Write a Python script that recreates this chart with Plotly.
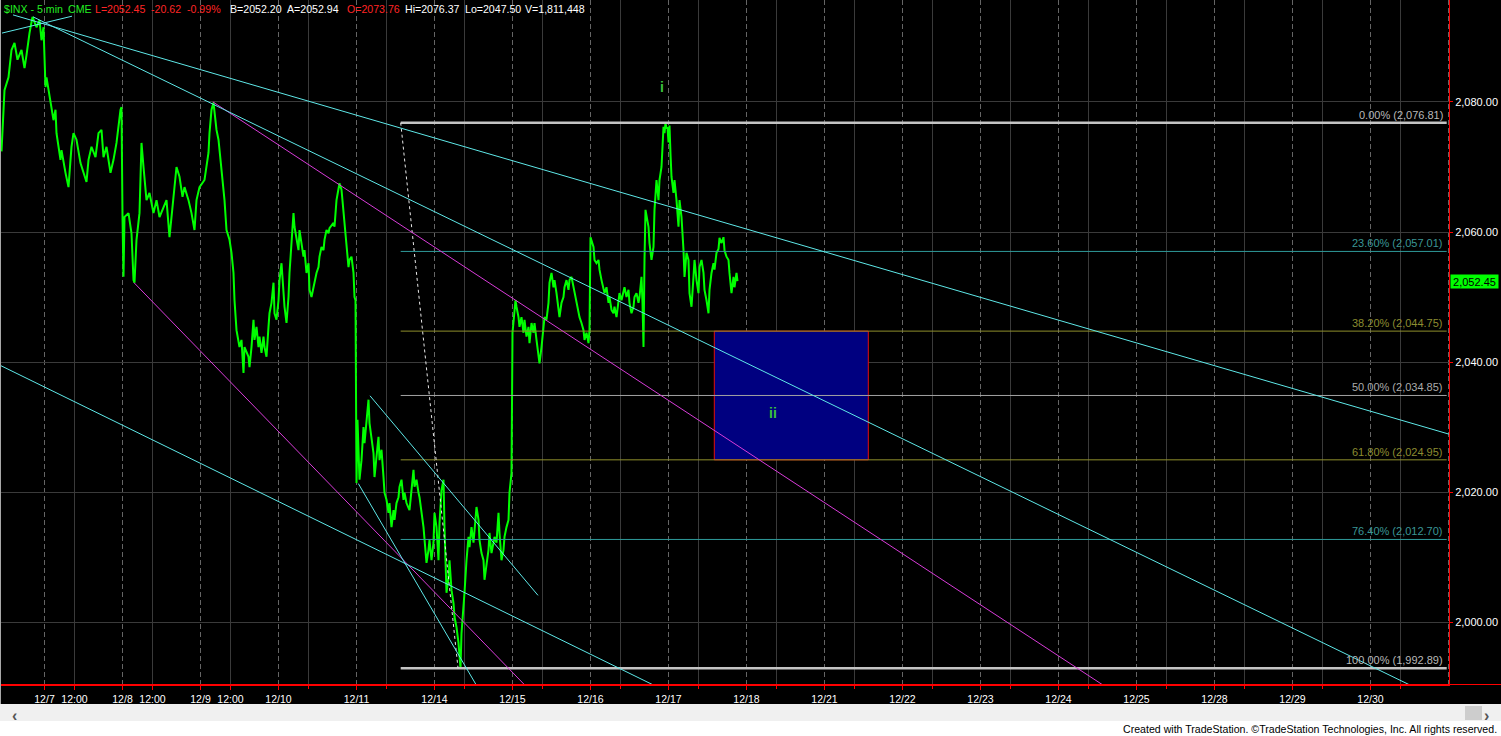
import plotly.graph_objects as go

FONT = "Arial, 'Liberation Sans', sans-serif"

# ---------------------------------------------------------------------------
# $INX 5-minute closes. x = bar number counted from the 12/7 open
# (78 bars per regular session, earlier bars belong to the 12/4 session).
# ---------------------------------------------------------------------------
bars = [
    # 12/4
    -43, -40, -36, -33, -30, -27, -23, -20, -18, -15, -12, -8, -5, -3, -1,
    # 12/7
    0, 1, 2, 6, 9, 11, 12, 16, 17, 21, 24, 26, 27, 29, 32, 36, 39, 42, 44, 47,
    51, 54, 57, 59, 62, 66, 69, 72, 76, 77,
    # 12/8
    78, 79, 80, 84, 87, 89, 90, 92, 95, 97, 99, 102, 105, 109, 112, 115, 119,
    122, 125, 129, 132, 135, 138, 140, 144, 147, 150, 152, 155,
    # 12/9
    160, 164, 165, 167, 169, 172, 174, 175, 177, 178, 180, 182, 185, 187, 189,
    190, 192, 195, 197, 199, 200, 204, 205, 207, 209, 210, 212, 214, 215, 217,
    219, 220, 222, 224, 225, 227, 229, 230, 232,
    # 12/10
    234, 235, 237, 239, 240, 242, 244, 245, 247, 249, 250, 252, 254, 255, 257,
    259, 260, 262, 264, 265, 267, 269, 270, 272, 274, 275, 277, 279, 280, 282,
    284, 285, 289, 290, 292, 294, 295, 297, 299, 300, 302, 304, 305, 307, 309,
    310, 311,
    # 12/11
    312, 313, 314, 315, 317, 319, 320, 322, 324, 325, 327, 329, 330, 332, 334,
    335, 337, 339, 340, 342, 344, 345, 347, 349, 350, 352, 354, 355, 357, 359,
    360, 362, 365, 367, 369, 370, 372, 374, 375, 379, 380, 382, 384, 385, 387,
    389,
    # 12/14
    390, 392, 394, 395, 397, 399, 400, 402, 404, 405, 407, 409, 410, 412, 414,
    415, 416, 417, 419, 420, 422, 424, 425, 427, 429, 430, 432, 434, 435, 437,
    439, 440, 442, 444, 445, 447, 449, 450, 452, 454, 455, 457, 459, 460, 462,
    464, 465, 467,
    # 12/15
    468, 470, 471, 472, 474, 475, 477, 479, 480, 482, 484, 485, 487, 489, 490,
    492, 494, 495, 497, 499, 500, 502, 504, 505, 507, 509, 510, 512, 514, 515,
    517, 519, 520, 522, 524, 525, 527, 529, 532, 534, 535, 537, 539, 540, 542,
    544, 545,
    # 12/16
    546, 547, 549, 550, 552, 554, 555, 557, 559, 560, 562, 564, 565, 567, 569,
    570, 572, 574, 575, 577, 579, 580, 582, 584, 585, 587, 589, 590, 592, 594,
    595, 597, 598, 599, 600, 601, 604, 605, 607, 609, 610, 612, 614, 615, 617,
    619, 620, 621, 622, 623,
    # 12/17
    624, 625, 626, 627, 629, 630, 632, 634, 635, 637, 639, 640, 642, 644, 645,
    647, 649, 650, 652, 654, 655, 657, 659, 660, 662, 664, 665, 667, 669, 670,
    672, 674, 675, 677, 679, 680, 682, 684, 685, 687, 689, 690, 692, 693,
]

prices = [
    # 12/4
    2072.4, 2081.8, 2083.8, 2088.0, 2089.1, 2086.5, 2088.0, 2085.2, 2087.2,
    2090.6, 2093.1, 2091.5, 2092.6, 2089.5, 2091.5,
    # 12/7
    2088.0, 2082.3, 2083.8, 2080.3, 2077.2, 2078.8, 2075.2, 2071.1, 2072.6,
    2069.1, 2066.9, 2071.1, 2073.1, 2075.2, 2074.2, 2070.6, 2069.1, 2067.7,
    2071.1, 2073.1, 2071.5, 2075.2, 2075.7, 2071.5, 2073.1, 2069.1, 2071.1,
    2073.7, 2078.8, 2079.2,
    # 12/8
    2062.3, 2053.1, 2062.3, 2062.9, 2059.8, 2052.6, 2052.2, 2058.8, 2062.9,
    2073.7, 2070.0, 2064.9, 2066.0, 2062.9, 2064.9, 2062.3, 2063.8, 2064.9,
    2059.2, 2065.4, 2070.0, 2068.5, 2065.4, 2066.9, 2064.9, 2062.9, 2060.3,
    2064.9, 2066.9,
    # 12/9
    2068.0, 2072.2, 2075.2, 2078.8, 2079.9, 2075.7, 2074.2, 2072.6, 2070.0,
    2067.5, 2064.9, 2060.3, 2058.8, 2056.8, 2053.7, 2049.5, 2044.9, 2042.3,
    2043.4, 2038.3, 2042.3, 2040.8, 2039.2, 2042.3, 2046.5, 2043.4, 2045.4,
    2042.3, 2043.9, 2041.4, 2043.9, 2042.3, 2040.8, 2045.4, 2047.5, 2049.1,
    2052.2, 2047.5, 2046.5,
    # 12/10
    2049.5, 2052.6, 2055.2, 2050.6, 2048.5, 2046.0, 2050.0, 2053.7, 2058.8,
    2062.9, 2060.8, 2058.8, 2057.2, 2060.3, 2058.3, 2056.2, 2057.2, 2053.7,
    2055.2, 2051.1, 2050.0, 2051.5, 2052.6, 2053.7, 2054.6, 2056.2, 2057.7,
    2057.2, 2058.8, 2060.3, 2059.8, 2060.6, 2061.4, 2060.8, 2064.9, 2066.5,
    2067.5, 2066.5, 2062.9, 2061.9, 2058.8, 2054.6, 2055.7, 2056.2, 2053.7,
    2050.0, 2049.5,
    # 12/11
    2021.4, 2031.1, 2026.5, 2021.9, 2024.9, 2030.0, 2027.5, 2031.1, 2034.2,
    2030.6, 2028.0, 2026.0, 2022.3, 2026.0, 2028.5, 2024.9, 2026.5, 2022.3,
    2019.9, 2018.8, 2016.8, 2018.3, 2014.6, 2017.2, 2015.7, 2018.3, 2019.2,
    2020.8, 2021.9, 2018.8, 2019.9, 2018.3, 2017.2, 2020.3, 2023.4, 2020.8,
    2021.9, 2019.9, 2019.2, 2014.6, 2012.2, 2009.1, 2011.1, 2012.6, 2009.5,
    2012.2,
    # 12/14
    2016.8, 2014.6, 2009.5, 2015.2, 2020.3, 2021.9, 2014.6, 2004.5, 2006.9,
    2009.5, 2004.9, 2002.9, 2000.8, 1999.2, 1996.8, 1995.2, 1992.9, 1998.3,
    2001.8, 2004.5, 2009.5, 2013.1, 2011.5, 2014.6, 2012.2, 2013.7, 2017.7,
    2015.7, 2012.6, 2010.6, 2009.5, 2006.5, 2008.5, 2011.1, 2013.7, 2010.6,
    2012.2, 2013.1, 2012.2, 2016.8, 2013.7, 2009.5, 2011.1, 2013.1, 2014.6,
    2015.7, 2019.9, 2022.9,
    # 12/15
    2044.5, 2047.7, 2049.5, 2048.5, 2046.9, 2045.4, 2046.9, 2044.5, 2046.5,
    2043.9, 2045.4, 2042.9, 2046.0, 2044.5, 2046.0, 2043.4, 2041.4, 2039.8,
    2042.3, 2044.9, 2046.9, 2046.5, 2049.1, 2052.2, 2053.7, 2051.5, 2052.6,
    2050.6, 2048.5, 2046.9, 2049.1, 2050.0, 2051.5, 2052.6, 2051.1, 2052.6,
    2053.1, 2051.5, 2049.5, 2048.0, 2046.9, 2046.0, 2044.9, 2043.4, 2044.5,
    2042.9, 2044.9,
    # 12/16
    2059.2, 2058.8, 2057.7, 2055.7, 2055.2, 2055.7, 2054.2, 2052.6, 2051.5,
    2050.6, 2051.5, 2049.1, 2050.0, 2048.0, 2047.5, 2048.5, 2046.9, 2049.1,
    2050.6, 2049.5, 2050.6, 2051.5, 2050.0, 2051.1, 2049.1, 2047.5, 2048.5,
    2050.0, 2050.6, 2049.1, 2050.0, 2053.1, 2049.1, 2042.3, 2055.7, 2063.4,
    2060.8, 2058.3, 2055.7, 2057.7, 2063.4, 2068.0, 2064.9, 2068.0, 2070.0,
    2076.2, 2075.2, 2076.8, 2075.9, 2076.1,
    # 12/17
    2073.76, 2076.37, 2072.0, 2068.5, 2066.0, 2068.0, 2064.9, 2060.8, 2064.9,
    2062.3, 2057.2, 2053.1, 2056.8, 2055.7, 2050.6, 2048.5, 2053.1, 2055.7,
    2052.6, 2050.6, 2054.6, 2055.7, 2053.7, 2051.1, 2049.5, 2047.5, 2051.1,
    2053.7, 2055.2, 2054.2, 2056.8, 2057.4, 2059.1, 2058.3, 2059.2, 2057.2,
    2056.2, 2055.7, 2053.7, 2050.6, 2053.1, 2051.5, 2053.7, 2052.45,
]
assert len(bars) == len(prices)

# Session dates on the time axis (future sessions kept for the projection space)
sessions = ["12/7", "12/8", "12/9", "12/10", "12/11", "12/14", "12/15", "12/16",
            "12/17", "12/18", "12/21", "12/22", "12/23", "12/24", "12/25",
            "12/28", "12/29", "12/30"]
noon_labelled = ["12/7", "12/8", "12/9"]
BARS_PER_SESSION = 78
NOON_BAR = 30

x_range = [-44.5, 1404.5]
y_range = [1990.31, 2095.69]
y_ticks = [2000, 2020, 2040, 2060, 2080]

# Header quote fields: (text, colour, left pixel)
quote_parts = [
    ("$INX - 5 min", "#22ee22", 3),
    ("CME", "#22ee22", 67),
    ("L=2052.45", "#ff2525", 94),
    ("-20.62", "#ff2525", 150),
    ("-0.99%", "#ff2525", 186),
    ("B=2052.20", "#ffffff", 229),
    ("A=2052.94", "#ffffff", 286),
    ("O=2073.76", "#ff2525", 346),
    ("Hi=2076.37", "#ffffff", 404),
    ("Lo=2047.50", "#ffffff", 464),
    ("V=1,811,448", "#ffffff", 524),
]

# Trendlines: (bar0, price0, bar1, price1)
cyan_lines = [
    (-42.5, 2090.6, 27.5, 2093.2),
    (-31.5, 2093.4, 1404.5, 2028.9),
    (-11.5, 2093.1, 1365.5, 1990.3),
    (-44.5, 2039.5, 609.0, 1990.3),
    (325.5, 2034.8, 493.5, 2004.1),
    (313.8, 2021.3, 431.8, 1990.3),
]
magenta_lines = [
    (168.5, 2080.0, 1058.5, 1990.3),
    (89.5, 2052.2, 480.3, 1990.3),
]

# Fibonacci retracement between the swing high and the 12/14 low
fib_high_bar = 356.2
fib_low_bar = 413.5
fib_end_bar = 1402.2
fib_ratios = [0.0, 0.236, 0.382, 0.5, 0.618, 0.764, 1.0]
fib_levels = [2076.81, 2057.01, 2044.75, 2034.85, 2024.95, 2012.70, 1992.89]
fib_line_colors = ["#c4c4c4", "#2f9a9a", "#8f8f2c", "#a2a2a2", "#8f8f2c", "#2f9a9a", "#c4c4c4"]
fib_text_colors = ["#b8b8b8", "#3a9696", "#8c8c30", "#ababab", "#8c8c30", "#3a9696", "#b8b8b8"]
fib_line_widths = [2.5, 1, 1, 1, 1, 1, 2.5]

# Wave labels and the wave-ii target zone
wave_i = (617.5, 2082.3)
wave_ii = (728.5, 2032.2)
wave_ii_zone_bars = [669.8, 823.8]

# ---------------------------------------------------------------------------
PLOT_W, PLOT_H = 1449, 685
FIG_W, FIG_H = 1501, 736


def paper_x(px):
    return px / PLOT_W


def paper_y(py):
    return 1 - py / PLOT_H


fib_high, fib_low = fib_levels[0], fib_levels[-1]

fig = go.Figure()
fig.add_trace(go.Scatter(
    x=bars, y=prices, mode="lines",
    line=dict(color="#00ff00", width=2),
    hoverinfo="skip",
))

shapes = []

# Vertical grid: dashed at each session open, solid at 12:00
for i in range(-1, len(sessions) + 1):
    start = i * BARS_PER_SESSION
    noon = start + NOON_BAR
    if x_range[0] < start < x_range[1]:
        shapes.append(dict(type="line", xref="x", yref="paper", x0=start, x1=start,
                           y0=0, y1=1, layer="below",
                           line=dict(color="#656565", width=1, dash="5px,3px")))
    if x_range[0] < noon < x_range[1]:
        shapes.append(dict(type="line", xref="x", yref="paper", x0=noon, x1=noon,
                           y0=0, y1=1, layer="below",
                           line=dict(color="#3a3a3a", width=1)))

# Wave ii zone
shapes.append(dict(type="rect", xref="x", yref="y",
                   x0=wave_ii_zone_bars[0], x1=wave_ii_zone_bars[1],
                   y0=fib_levels[4], y1=fib_levels[2],
                   fillcolor="#000080", line=dict(color="#e01010", width=1)))

# Fibonacci levels
for lvl, col, w in zip(fib_levels, fib_line_colors, fib_line_widths):
    shapes.append(dict(type="line", xref="x", yref="y", x0=fib_high_bar, x1=fib_end_bar,
                       y0=lvl, y1=lvl, line=dict(color=col, width=w)))
shapes.append(dict(type="line", xref="x", yref="y", x0=fib_high_bar, x1=fib_low_bar,
                   y0=fib_high, y1=fib_low,
                   line=dict(color="#e8e8e8", width=1, dash="3px,3px")))

for (xa, ya, xb, yb) in magenta_lines:
    shapes.append(dict(type="line", xref="x", yref="y", x0=xa, y0=ya, x1=xb, y1=yb,
                       line=dict(color="#d83cd8", width=1)))
for (xa, ya, xb, yb) in cyan_lines:
    shapes.append(dict(type="line", xref="x", yref="y", x0=xa, y0=ya, x1=xb, y1=yb,
                       line=dict(color="#5ee8e8", width=1)))

# Bottom rule continued under the price scale
shapes.append(dict(type="line", xref="paper", yref="paper", x0=0, x1=paper_x(FIG_W),
                   y0=paper_y(684.5), y1=paper_y(684.5), line=dict(color="#ff0000", width=1)))
# Left frame edge
shapes.append(dict(type="line", xref="paper", yref="paper", x0=paper_x(0.5), x1=paper_x(0.5),
                   y0=paper_y(0), y1=paper_y(704), line=dict(color="#a8a8a8", width=1)))
# Scroll bar and footer strip
shapes.append(dict(type="rect", xref="paper", yref="paper", x0=0, x1=paper_x(FIG_W),
                   y0=paper_y(704), y1=paper_y(721), fillcolor="#f0f0f0",
                   line=dict(width=0)))
shapes.append(dict(type="rect", xref="paper", yref="paper", x0=0, x1=paper_x(FIG_W),
                   y0=paper_y(721), y1=paper_y(FIG_H + 1), fillcolor="#ffffff",
                   line=dict(width=0)))
shapes.append(dict(type="rect", xref="paper", yref="paper", x0=paper_x(1465), x1=paper_x(1482),
                   y0=paper_y(706), y1=paper_y(720), fillcolor="#cdcdcd",
                   line=dict(width=0)))

annotations = []
for text, color, left in quote_parts:
    annotations.append(dict(xref="paper", yref="paper", x=paper_x(left), y=paper_y(9),
                            xanchor="left", yanchor="middle", showarrow=False, text=text,
                            borderpad=0,
                            font=dict(family=FONT, size=10.6, color=color)))

for r, lvl, col in zip(fib_ratios, fib_levels, fib_text_colors):
    annotations.append(dict(xref="paper", yref="y", x=paper_x(1445), y=lvl,
                            xanchor="right", yanchor="bottom", yshift=0, showarrow=False,
                            text=f"{r * 100:.2f}% ({lvl:,.2f})",
                            font=dict(family=FONT, size=11, color=col)))

annotations.append(dict(xref="x", yref="y", x=wave_i[0], y=wave_i[1], text="<b>i</b>",
                        showarrow=False, font=dict(family=FONT, size=14, color="#3cc03c")))
annotations.append(dict(xref="x", yref="y", x=wave_ii[0], y=wave_ii[1], text="<b>ii</b>",
                        showarrow=False, font=dict(family=FONT, size=14, color="#3cc03c")))

# Last price tag on the price scale
annotations.append(dict(xref="paper", yref="y", x=paper_x(1450), y=prices[-1],
                        xanchor="left", yanchor="middle", showarrow=False,
                        text=f"{prices[-1]:,.2f}", bgcolor="#00ff00", borderpad=0,
                        width=47, height=13,
                        font=dict(family=FONT, size=11, color="#000000")))

# Scroll arrows and footer
annotations.append(dict(xref="paper", yref="paper", x=paper_x(10), y=paper_y(715),
                        yanchor="middle", text="<b>\u2039</b>", showarrow=False,
                        font=dict(family=FONT, size=16, color="#555555")))
annotations.append(dict(xref="paper", yref="paper", x=paper_x(1491), y=paper_y(715),
                        yanchor="middle", text="<b>\u203a</b>", showarrow=False,
                        font=dict(family=FONT, size=16, color="#555555")))
annotations.append(dict(xref="paper", yref="paper", x=paper_x(1499), y=paper_y(729),
                        xanchor="right", yanchor="middle", showarrow=False,
                        text="Created with TradeStation. \u00a9TradeStation Technologies, Inc. All rights reserved.",
                        font=dict(family=FONT, size=10.6, color="#000000")))

# Axis ticks
tickvals, ticktext = [], []
for i, s in enumerate(sessions):
    start = i * BARS_PER_SESSION
    tickvals.append(start)
    ticktext.append(s)
    if s in noon_labelled:
        tickvals.append(start + NOON_BAR)
        ticktext.append("12:00")

fig.update_layout(
    template="none",
    width=FIG_W, height=FIG_H,
    margin=dict(l=0, r=FIG_W - PLOT_W, t=0, b=FIG_H - PLOT_H, pad=0),
    paper_bgcolor="#000000", plot_bgcolor="#000000",
    showlegend=False,
    font=dict(family=FONT, size=11, color="#ffffff"),
    shapes=shapes,
    annotations=annotations,
    xaxis=dict(
        range=x_range, tickmode="array", tickvals=tickvals, ticktext=ticktext,
        ticks="outside", ticklen=4, tickwidth=1, tickcolor="#ff0000",
        showline=True, linecolor="#ff0000", linewidth=1,
        showgrid=False, zeroline=False, automargin=False,
        tickfont=dict(family=FONT, size=10.5, color="#ffffff"),
        minor=dict(ticks="outside", tick0=NOON_BAR, dtick=BARS_PER_SESSION,
                   ticklen=3, tickcolor="#ff0000", showgrid=False),
    ),
    yaxis=dict(
        range=y_range, side="right", tickmode="array", tickvals=y_ticks,
        tickformat=",.2f", ticks="outside", ticklen=3, tickcolor="#ff0000",
        showline=True, linecolor="#ff0000", linewidth=1,
        showgrid=True, gridcolor="#3a3a3a", gridwidth=1, zeroline=False,
        automargin=False,
        tickfont=dict(family=FONT, size=11, color="#ffffff"),
    ),
)

fig.write_html("out.html")
